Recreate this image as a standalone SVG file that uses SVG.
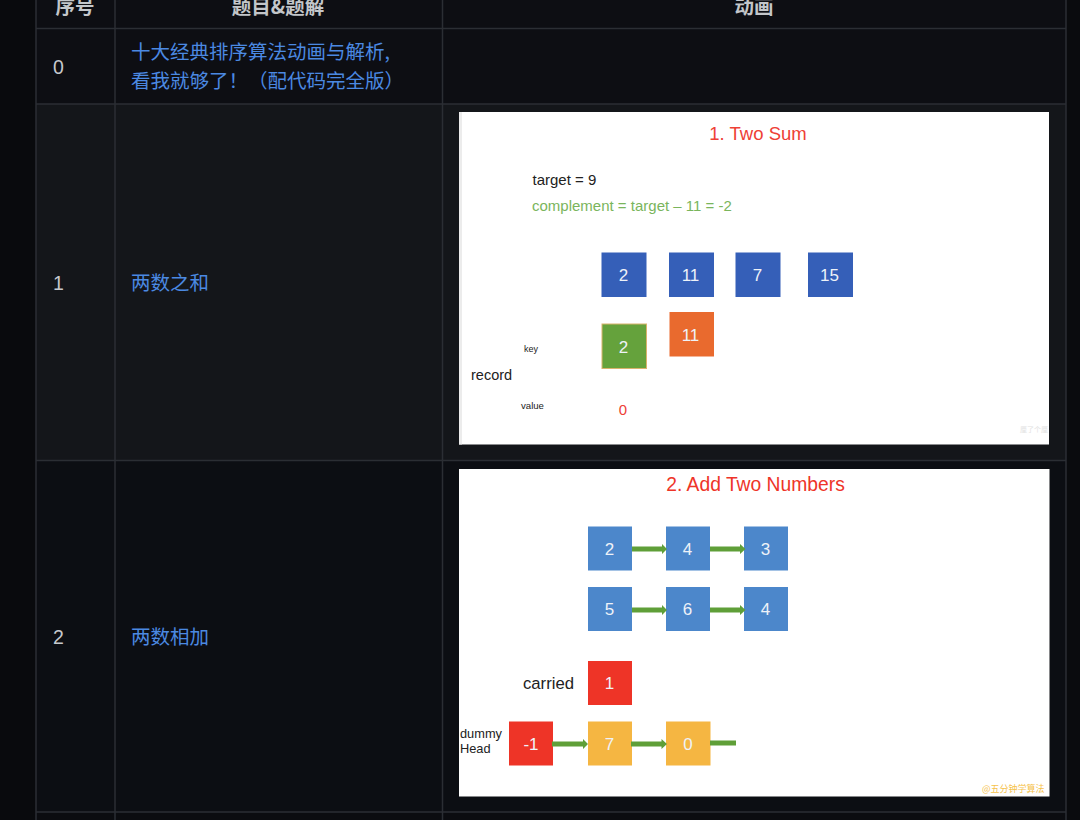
<svg xmlns="http://www.w3.org/2000/svg" width="1080" height="820" viewBox="0 0 1080 820">
<style>
.sans{font-family:"Liberation Sans",Arial,sans-serif}
.cjk{font-family:"Noto Sans CJK SC","Noto Sans",sans-serif}
.th{font-size:19.500px;font-weight:700;fill:#c3c6ca;text-anchor:middle}
.num{font-size:19.500px;fill:#c6c9cd}
.link{font-size:19.500px;fill:#4b89e2}
.grid{stroke:#2b2e34;stroke-width:1.5;fill:none}
.lbl{font-family:"Liberation Sans",Arial,sans-serif;text-anchor:middle;fill:#eef2f8}
.a{fill:#5f9f38}
.tx{font-family:"Liberation Sans",Arial,sans-serif;fill:#222}
</style>
<rect width="1080" height="820" fill="#0b0c10"/>
<rect x="0" y="0" width="36" height="820" fill="#090a0d"/>
<rect x="36" y="104" width="1030" height="356" fill="#14161a"/>
<rect x="36" y="0" width="1030" height="104" fill="#0d0e13"/>
<rect x="36" y="460" width="1030" height="352" fill="#0c0e13"/>
<rect x="1066" y="0" width="14" height="820" fill="#0a0b0e"/>
<g id="table-grid">
<path class="grid" d="M36 0V820M115 0V820M442.500 0V820M1066 0V820M36 28.500H1066M36 104H1066M36 460.500H1066M36 812H1066"/>
</g>
<g id="header" class="cjk">
<text class="th" x="75" y="14">序号</text>
<text class="th" x="278" y="14">题目&amp;题解</text>
<text class="th" x="754" y="14">动画</text>
</g>
<g id="row-0" class="cjk">
<text class="num sans" x="53" y="74">0</text>
<text class="link" x="131" y="59">十大经典排序算法动画与解析,</text>
<text class="link" x="131" y="88">看我就够了！（配代码完全版）</text>
</g>
<g id="row-1-label" class="cjk">
<text class="num sans" x="53" y="290">1</text>
<text class="link" x="131" y="290">两数之和</text>
</g>
<g id="row-2-label" class="cjk">
<text class="num sans" x="53" y="644">2</text>
<text class="link" x="131" y="644">两数相加</text>
</g>
<g id="panel-two-sum">
<rect x="459" y="112" width="590" height="332.500" fill="#fff"/>
<rect x="459" y="112" width="3" height="332.500" fill="#ececec"/>
<text class="sans" x="758" y="140" font-size="18.500" fill="#ee4035" text-anchor="middle">1. Two Sum</text>
<text class="tx" x="532.500" y="185" font-size="15">target = 9</text>
<text class="sans" x="532" y="211" font-size="15" fill="#7ab55c">complement = target – 11 = -2</text>
<g id="n-2"><rect x="601.500" y="252.500" width="45" height="44.500" fill="#355fb8"/><text class="lbl" x="623.500" y="281" font-size="17">2</text></g>
<g id="n-11"><rect x="669" y="252.500" width="45" height="44.500" fill="#355fb8"/><text class="lbl" x="690.500" y="281" font-size="17">11</text></g>
<g id="n-7"><rect x="735.500" y="252.500" width="45" height="44.500" fill="#355fb8"/><text class="lbl" x="757.500" y="281" font-size="17">7</text></g>
<g id="n-15"><rect x="808" y="252.500" width="45" height="44.500" fill="#355fb8"/><text class="lbl" x="829.500" y="281" font-size="17">15</text></g>
<g id="key-2"><rect x="602" y="324" width="44.500" height="44.500" fill="#65a23c" stroke="#d9b36c" stroke-width="1"/><text class="lbl" x="623.500" y="352.500" font-size="17">2</text></g>
<g id="key-11"><rect x="669.500" y="312" width="44.500" height="44.500" fill="#e96a2e"/><text class="lbl" x="690.500" y="340.500" font-size="17">11</text></g>
<text class="tx" x="524" y="352" font-size="9">key</text>
<text class="tx" x="471" y="380" font-size="14.500">record</text>
<text class="tx" x="521" y="409" font-size="9.600">value</text>
<text class="sans" x="623" y="414.500" font-size="15" fill="#ee4035" text-anchor="middle">0</text>
<text class="cjk" x="1020" y="432" font-size="7" fill="#e2e2e2">厘了个厘</text>
</g>
<g id="panel-add-two">
<rect x="459" y="469" width="590.500" height="327.500" fill="#fff"/>
<text class="sans" x="755.500" y="491" font-size="19.300" fill="#ee3428" text-anchor="middle">2. Add Two Numbers</text>
<text class="tx" x="523" y="689" font-size="16.700">carried</text>
<text class="tx" x="460" y="738" font-size="12.800">dummy</text>
<text class="tx" x="460" y="753" font-size="12.800">Head</text>
<text class="cjk" x="982" y="792" font-size="9" fill="#f6c24a">@五分钟学算法</text>
</g>
<g id="l-2"><rect x="588" y="526.500" width="44" height="44" fill="#4c87cb"/><text class="lbl" x="609.500" y="554.500" font-size="17">2</text></g>
<g id="l-4"><rect x="666" y="526.500" width="44" height="44" fill="#4c87cb"/><text class="lbl" x="687.500" y="554.500" font-size="17">4</text></g>
<g id="l-3"><rect x="744" y="526.500" width="44" height="44" fill="#4c87cb"/><text class="lbl" x="765.500" y="554.500" font-size="17">3</text></g>
<g id="m-5"><rect x="588" y="587" width="44" height="44" fill="#4c87cb"/><text class="lbl" x="609.500" y="615" font-size="17">5</text></g>
<g id="m-6"><rect x="666" y="587" width="44" height="44" fill="#4c87cb"/><text class="lbl" x="687.500" y="615" font-size="17">6</text></g>
<g id="m-4"><rect x="744" y="587" width="44" height="44" fill="#4c87cb"/><text class="lbl" x="765.500" y="615" font-size="17">4</text></g>
<g id="carry"><rect x="588" y="661" width="44" height="44" fill="#ee3427"/><text class="lbl" x="609.500" y="689" font-size="17">1</text></g>
<g id="dummy"><rect x="509" y="721.500" width="44" height="44" fill="#ee3427"/><text class="lbl" x="531" y="749.500" font-size="17">-1</text></g>
<g id="r-7"><rect x="588" y="721.500" width="44" height="44" fill="#f5b642"/><text class="lbl" x="609.500" y="749.500" font-size="17">7</text></g>
<g id="r-0"><rect x="666" y="721.500" width="44.500" height="44" fill="#f5b642"/><text class="lbl" x="688" y="749.500" font-size="17">0</text></g>
<g id="connectors">
<path class="a" d="M632 546.500H662V544L667 549L662 554V551.500H632Z"/>
<path class="a" d="M710 546.500H740V544L745.500 549L740 554V551.500H710Z"/>
<path class="a" d="M632 607.500H662V605L667 610L662 615V612.500H632Z"/>
<path class="a" d="M710 607.500H740V605L745.500 610L740 615V612.500H710Z"/>
<path class="a" d="M552 741.500H583V739L588 744L583 749V746.500H552Z"/>
<path class="a" d="M631 741.500H661.500V739L667 744L661.500 749V746.500H631Z"/>
<rect class="a" x="710" y="740.500" width="26" height="5"/>
</g>
</svg>
